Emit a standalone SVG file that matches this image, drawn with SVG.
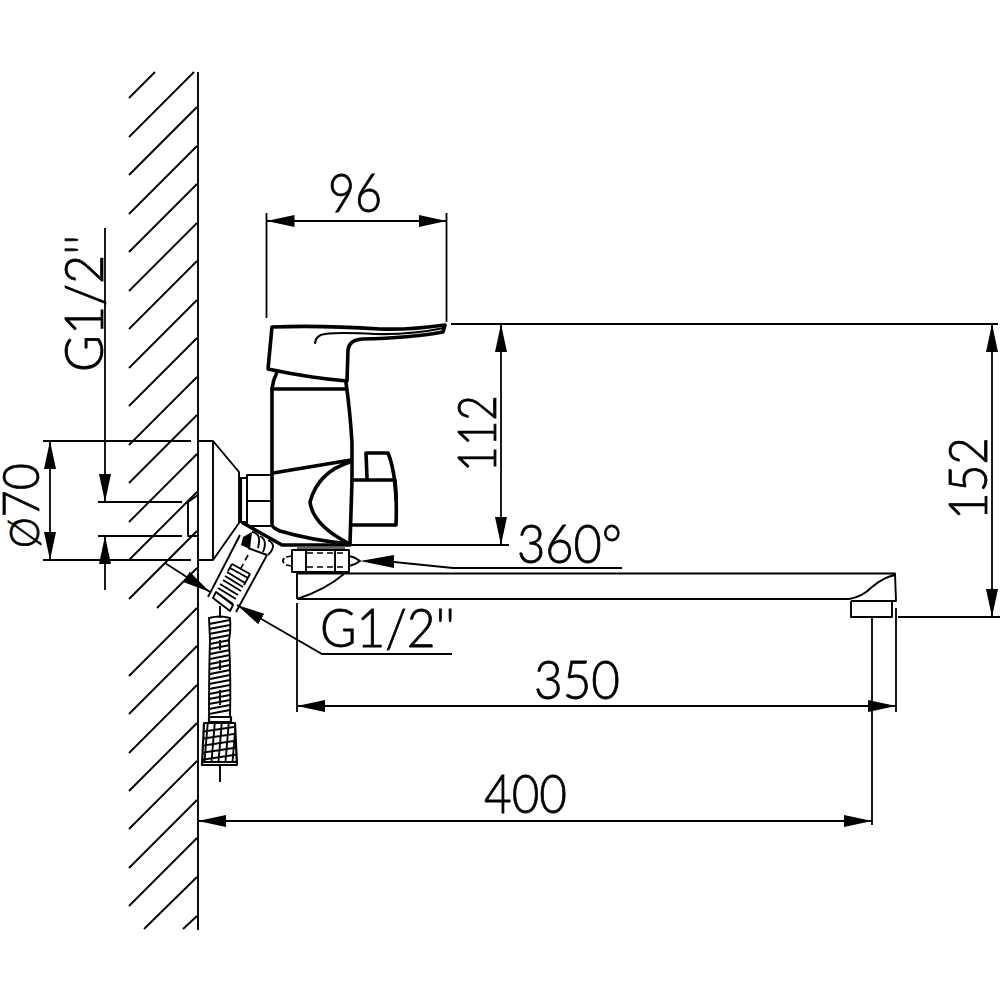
<svg xmlns="http://www.w3.org/2000/svg" width="1000" height="1000" viewBox="0 0 1000 1000">
<style>
.t{font-family:"Lato","Liberation Sans",sans-serif;font-weight:300;font-size:53px;fill:#000;stroke:#000;stroke-width:.8}
.s{font-size:51px}
.o{font-size:42px}
.th{fill:none;stroke:#000;stroke-width:1.9;stroke-linejoin:round}
.m{fill:none;stroke:#000;stroke-width:2.2;stroke-linejoin:round;stroke-linecap:round}
.b{fill:none;stroke:#000;stroke-width:3.6;stroke-linejoin:round;stroke-linecap:round}
.d{fill:none;stroke:#000;stroke-width:1.7;stroke-dasharray:6 4}
.dim{fill:none;stroke:#000;stroke-width:1.8}
.a{marker-end:url(#ah)}
.aa{marker-start:url(#ah);marker-end:url(#ah)}
</style>
<defs>
<marker id="ah" markerUnits="userSpaceOnUse" markerWidth="30" markerHeight="14" refX="28" refY="6" orient="auto-start-reverse"><path d="M0 0L28 6L0 12Z" fill="#000"/></marker>
<clipPath id="fc"><path d="M204 724H235L237 762H202Z"/></clipPath>
</defs>
<rect width="1000" height="1000" fill="#fff"/>
<g id="wall">
<path class="th" d="M198 72V930"/>
<path class="th" d="M129 98L155 72M129 137L194 72M129 175L197 107M129 214L197 146M129 252L197 184M129 291L197 223M129 329L197 261M129 368L197 300M129 406L197 338M129 445L197 377M129 483L197 415M129 522L197 454M129 560L197 492M129 599L197 531M157 608L197 568M129 676L197 608M129 714L197 646M129 753L197 685M129 791L197 723M129 829L197 761M129 868L197 800M129 906L197 838M144 929L197 877M183 929L197 916"/>
</g>
<g id="wall-plate">
<path class="th" d="M198 441H213L239 472V523L213 560H198M213 441V560"/>
<path class="th" d="M188 502V536H198M188 502L198 495"/>
<path class="m" stroke-width="3" d="M241 478V522"/>
<path class="th" d="M239 478H247V522H239"/>
</g>
<g id="union-nut">
<path class="th" d="M247 475H272V526H247ZM247 501H272"/>
</g>
<g id="mixer-body">
<path class="b" d="M277 372Q273 380 272 389V525Q273 528 280 531Q310 540 350 544L352 480V443Q350 410 346 383"/>
<path class="b" d="M272 389H345M273 473L351 460M350 462Q318 472 310 502Q313 525 348 543"/>
<path class="b" d="M243 523L282 545H350"/>
<path d="M352 480H395Q397 500 396 525H353" class="b"/>
<path class="b" d="M367 478L366 453H388Q395 470 396 500"/>
</g>
<g id="lever">
<path class="b" d="M272 327L268 369Q310 378 347 381L348 350Q349 340 362 339Q410 338 443 332L445 325Q410 330 380 329Q320 325 272 327Z"/>
<path class="m" stroke-width="2.6" d="M315 343Q316 335 325 334Q340 332 375 334Q410 335 444 328"/>
</g>
<g id="swivel-nut">
<path class="th" d="M292 550H349V572H292ZM306 550V572M335 550V572"/>
<path d="M297 547.7H345" stroke="#666" stroke-width="2.4" fill="none"/>
<path class="d" d="M307 553H343M307 567H343"/>
<path class="th" d="M349 556Q355 557 360 561Q355 565 349 566M284 558Q282 561 284 563"/>
<path class="d" d="M292 556L286 557M292 566L286 565"/>
</g>
<g id="spout">
<path class="th" d="M297 599V573.5H895L896 601H851M297 599H849Q862 597 872 587Q884 577 895 575"/>
<path class="th" d="M297 599Q325 590 344 574"/>
<path class="th" d="M851 601V617H892V601"/>
</g>
<g id="shower-connector">
<path class="th" d="M240 535L208 597M267 555L236 612"/>
<path class="th" d="M213 598L230 611L233 605L216 592ZM216 592L233 604M218 588L236 599M220 584L238 595M223 580L241 591M225 576L243 587M227 572L245 583M230 568L248 578M232 564L250 574M232 564L228 571M250 574L244 585"/>
<path d="M243 537L252 532L250 549L241 545Z" fill="#000"/>
<path class="th" d="M252 532Q262 533 258 548M260 536Q268 540 263 552M268 540Q278 545 268 555M248 548L267 555"/>
<path class="d" d="M248 555L240 570"/>
</g>
<g id="hose">
<path class="th" d="M209 618Q220 615 230 618Q231 630 229 640Q231 680 230 717H209Q209 670 210 640Z"/>
<path class="th" d="M209 624L230 620M209 629L230 625M209 634L230 630M210 639L230 635M210 644L230 640M210 649L230 645M210 654L230 650M210 659L230 655M210 664L230 660M210 669L230 665M210 674L230 670M210 679L230 675M209 684L230 680M209 689L230 685M209 694L230 690M209 699L230 695M209 704L230 700M209 709L230 705M209 714L230 710"/>
<path class="th" d="M220 606V618M220 640V650M220 660V670M220 690V705M220 765V782"/>
<path class="m" stroke-width="2.4" d="M209 717V722H231V717"/>
</g>
<g id="filter">
<path class="m" d="M204 723H235L237 765H202Z"/>
<path class="m" d="M203 762H237"/>
<g clip-path="url(#fc)"><path class="th" stroke-width="1.2" d="M200 732L240 726M200 739L240 733M200 746L240 740M200 753L240 747M200 760L240 754M200 767L240 761M208 720L204 768M215 720L211 768M222 720L218 768M229 720L225 768M236 720L232 768"/></g>
</g>
<g id="connectors">
<path class="dim" d="M266.5 213V318M446.5 213V322M451 324H998M350 545H509M43 441H191M43 560H191M98 502H182M98 536H182M898 617H1000M872 617V825M896 608V712M297 603V712"/>
<path class="dim aa" d="M266.5 221H446.5"/>
<path class="dim aa" d="M501 324V545"/>
<path class="dim aa" d="M992 324V617"/>
<path class="dim aa" d="M50 441V560"/>
<path class="dim a" d="M105 228V502"/>
<path class="dim a" d="M105 590V536"/>
<path class="dim aa" d="M297 706H896"/>
<path class="dim aa" d="M198 821H872"/>
<path class="dim" d="M622 568H453L394 562"/>
<path d="M360 561L394 555V568Z" fill="#000"/>
<path class="dim a" d="M165 563L210 592"/>
<path class="dim a" d="M452 654H322L237 605"/>
</g>
<g id="labels">
<text class="t" x="328" y="212" textLength="54" lengthAdjust="spacingAndGlyphs">96</text>
<text class="t" x="534" y="699" textLength="86" lengthAdjust="spacingAndGlyphs">350</text>
<text class="t" x="484" y="813" textLength="83" lengthAdjust="spacingAndGlyphs">400</text>
<text class="t" x="517" y="563" textLength="105" lengthAdjust="spacingAndGlyphs">360°</text>
<text class="t" x="320" y="647" textLength="135" lengthAdjust="spacingAndGlyphs">G1/2''</text>
<text class="t" transform="translate(496 472) rotate(-90)" textLength="77" lengthAdjust="spacingAndGlyphs">112</text>
<text class="t" transform="translate(987 520) rotate(-90)" textLength="83" lengthAdjust="spacingAndGlyphs">152</text>
<text class="t" transform="translate(103 372) rotate(-90)" textLength="137" lengthAdjust="spacingAndGlyphs">G1/2''</text>
<text class="t s" transform="translate(39 548) rotate(-90)" textLength="85" lengthAdjust="spacingAndGlyphs"><tspan class="o">Ø</tspan>70</text>
</g>
</svg>
